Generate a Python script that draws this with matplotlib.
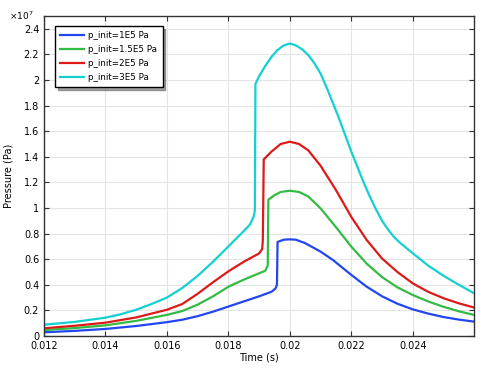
import numpy as np
import matplotlib.pyplot as plt
from matplotlib.ticker import FuncFormatter

# Curvas de pressão (valores em 1e7 Pa)
t_1e5 = [0.012, 0.013, 0.014, 0.015, 0.016, 0.0165, 0.017, 0.0175, 0.018, 0.0185, 0.019, 0.0194,
         0.01953, 0.01958, 0.0196, 0.0198, 0.0200, 0.0202, 0.0205, 0.021, 0.0214, 0.022, 0.0225,
         0.023, 0.0235, 0.024, 0.0245, 0.025, 0.0255, 0.026]
p_1e5 = [0.029, 0.040, 0.055, 0.078, 0.108, 0.127, 0.155, 0.190, 0.230, 0.270, 0.310, 0.345,
         0.370, 0.400, 0.735, 0.752, 0.755, 0.752, 0.725, 0.659, 0.594, 0.477, 0.385,
         0.310, 0.252, 0.208, 0.175, 0.148, 0.128, 0.112]

t_15e5 = [0.012, 0.013, 0.014, 0.015, 0.016, 0.0165, 0.017, 0.0175, 0.018, 0.0185, 0.019, 0.0192,
          0.01928, 0.0193, 0.0195, 0.0197, 0.0200, 0.0203, 0.0206, 0.021, 0.0215, 0.022, 0.0225,
          0.023, 0.0235, 0.024, 0.0245, 0.025, 0.0255, 0.026]
p_15e5 = [0.046, 0.062, 0.083, 0.118, 0.165, 0.195, 0.245, 0.310, 0.385, 0.440, 0.490, 0.510,
          0.550, 1.065, 1.100, 1.125, 1.135, 1.125, 1.090, 0.997, 0.850, 0.698, 0.565,
          0.460, 0.380, 0.320, 0.270, 0.228, 0.193, 0.164]

t_2e5 = [0.012, 0.013, 0.014, 0.015, 0.016, 0.0165, 0.017, 0.0175, 0.018, 0.0185, 0.019, 0.0191,
         0.01912, 0.01915, 0.0194, 0.0197, 0.0200, 0.0203, 0.0206, 0.021, 0.0215, 0.022, 0.0225,
         0.023, 0.0235, 0.024, 0.0245, 0.025, 0.0255, 0.026]
p_2e5 = [0.060, 0.080, 0.104, 0.145, 0.205, 0.250, 0.330, 0.420, 0.505, 0.580, 0.645, 0.680,
         0.750, 1.380, 1.440, 1.500, 1.518, 1.500, 1.450, 1.330, 1.140, 0.930, 0.750,
         0.605, 0.500, 0.411, 0.345, 0.295, 0.255, 0.222]

t_3e5 = [0.012, 0.013, 0.014, 0.0145, 0.015, 0.0155, 0.016, 0.0165, 0.017, 0.0175, 0.018, 0.0185,
         0.0187, 0.01882, 0.01886, 0.01888, 0.0190, 0.0192, 0.0194, 0.0196, 0.0198, 0.0200,
         0.0202, 0.0204, 0.0206, 0.0208, 0.021, 0.0212, 0.0214, 0.0216, 0.0218, 0.022, 0.0222,
         0.0224, 0.0226, 0.0228, 0.023, 0.0232, 0.0234, 0.0236, 0.024, 0.0245, 0.025, 0.0255, 0.026]
p_3e5 = [0.088, 0.110, 0.143, 0.170, 0.205, 0.250, 0.300, 0.375, 0.470, 0.580, 0.700, 0.820,
         0.870, 0.930, 0.980, 1.970, 2.030, 2.110, 2.180, 2.235, 2.270, 2.285,
         2.270, 2.240, 2.195, 2.130, 2.050, 1.940, 1.820, 1.700, 1.570, 1.440, 1.320,
         1.200, 1.090, 0.990, 0.900, 0.830, 0.770, 0.725, 0.646, 0.550, 0.470, 0.400, 0.333]

labels = ['p_init=1E5 Pa', 'p_init=1.5E5 Pa', 'p_init=2E5 Pa', 'p_init=3E5 Pa']
colors = ['#2246f0', '#33bb44', '#dd1a1a', '#14d0d0']

fig = plt.figure(figsize=(4.82, 3.68), dpi=100)
ax = fig.add_axes([0.0913, 0.087, 0.892, 0.8695])

series = [(t_1e5, p_1e5), (t_15e5, p_15e5), (t_2e5, p_2e5), (t_3e5, p_3e5)]
for (t, p), lab, c in zip(series, labels, colors):
    ax.plot(t, np.array(p) * 1e7, color=c, lw=1.6, label=lab)

ax.set_xlim(0.012, 0.02599)
ax.set_ylim(0, 2.5e7)
ax.set_xticks([0.012, 0.014, 0.016, 0.018, 0.020, 0.022, 0.024])
ax.set_yticks(np.arange(0, 2.41e7, 0.2e7))
ax.xaxis.set_major_formatter(FuncFormatter(lambda v, pos: '%g' % round(v, 6)))
ax.yaxis.set_major_formatter(FuncFormatter(lambda v, pos: '%g' % round(v / 1e7, 3)))
ax.text(-0.082, 1.0, r'$\times10^7$', transform=ax.transAxes, fontsize=6.5, va='center')

ax.grid(True, color='#e4e4e4', lw=0.8)
ax.set_axisbelow(True)
ax.tick_params(direction='in', length=3.5, labelsize=7, top=True, right=True, color='#333333')
for s in ax.spines.values():
    s.set_color('#333333')
    s.set_linewidth(1.0)

ax.set_xlabel('Time (s)', fontsize=7, labelpad=1)
ax.set_ylabel('Pressure (Pa)', fontsize=7, labelpad=7)

leg = ax.legend(loc='upper left', bbox_to_anchor=(0.026, 0.969), borderaxespad=0, fontsize=6.3,
                fancybox=False, shadow=True, framealpha=1, edgecolor='black', borderpad=0.6,
                handlelength=2.7, handletextpad=0.5, labelspacing=0.55)
leg.get_frame().set_linewidth(1.0)

fig.savefig('out.png', dpi=100)
